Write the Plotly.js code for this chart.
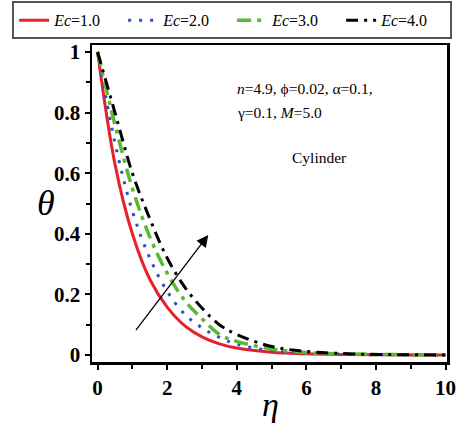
<!DOCTYPE html>
<html>
<head>
<meta charset="utf-8">
<script src="https://cdn.plot.ly/plotly-3.0.1.min.js"></script>
<style>html,body{margin:0;padding:0;background:#fff;}#chart{width:457px;height:445px;}</style>
</head>
<body>
<div id="chart"></div>
<script>
// Temperature profiles θ(η) for several Eckert numbers (cylinder case)
const eta = [0, 0.5, 1, 1.5, 2, 2.5, 3, 3.5, 4, 5, 6, 7, 8, 9, 10];
const thetaEc1 = [1, 0.63, 0.40, 0.25, 0.158, 0.097, 0.060, 0.037, 0.023, 0.009, 0.004, 0.002, 0.001, 0.0005, 0];
const thetaEc2 = [1, 0.70, 0.475, 0.32, 0.21, 0.135, 0.090, 0.058, 0.036, 0.014, 0.006, 0.003, 0.001, 0.0005, 0];
const thetaEc3 = [1, 0.76, 0.55, 0.39, 0.27, 0.18, 0.12, 0.068, 0.045, 0.020, 0.008, 0.004, 0.002, 0.001, 0];
const thetaEc4 = [1, 0.80, 0.60, 0.45, 0.32, 0.225, 0.155, 0.100, 0.068, 0.028, 0.012, 0.005, 0.002, 0.001, 0];
const seriesNames = ['<i>Ec</i>=1.0', '<i>Ec</i>=2.0', '<i>Ec</i>=3.0', '<i>Ec</i>=4.0'];
const xTicks = [0, 2, 4, 6, 8, 10];
const yTicks = [0, 0.2, 0.4, 0.6, 0.8, 1];

const serif = 'Liberation Serif, Times New Roman, serif';

const traces = [
  {x: eta, y: thetaEc1, name: seriesNames[0], line: {color: '#e8202a', width: 3, dash: 'solid', shape: 'spline'}},
  {x: eta, y: thetaEc2, name: seriesNames[1], line: {color: '#2f4fc0', width: 3, dash: '3px,8px', shape: 'spline'}},
  {x: eta, y: thetaEc3, name: seriesNames[2], line: {color: '#5cb833', width: 3.5, dash: '14px,6px,4px,6px', shape: 'spline'}},
  {x: eta, y: thetaEc4, name: seriesNames[3], line: {color: '#000000', width: 3, dash: '12px,6px,3px,6px', shape: 'spline'}}
].map(t => Object.assign({type: 'scatter', mode: 'lines'}, t));

const axisCommon = {
  showline: true, linecolor: '#000', linewidth: 2.5, mirror: true,
  ticks: 'outside', ticklen: 5, tickwidth: 2, tickcolor: '#000',
  showgrid: false, zeroline: false,
  tickfont: {family: serif, size: 21, color: '#000', weight: 'bold'}
};

const layout = {
  width: 457, height: 445,
  margin: {l: 92, r: 10, t: 45, b: 83, autoexpand: false},
  paper_bgcolor: '#fff', plot_bgcolor: '#fff',
  showlegend: true,
  legend: {
    orientation: 'h', x: -0.225, y: 1.138, xanchor: 'left', yanchor: 'top',
    bordercolor: '#555', borderwidth: 2, bgcolor: '#fff',
    font: {family: serif, size: 16, color: '#000'},
    entrywidth: 64, entrywidthmode: 'pixels', tracegroupgap: 0
  },
  xaxis: Object.assign({}, axisCommon, {
    range: [-0.16, 10.04], tickvals: xTicks,
    minor: {dtick: 1, ticks: 'outside', ticklen: 4, tickwidth: 2, tickcolor: '#000'}
  }),
  yaxis: Object.assign({}, axisCommon, {
    range: [-0.023, 1.023], tickvals: yTicks,
    minor: {dtick: 0.1, ticks: 'outside', ticklen: 4, tickwidth: 2, tickcolor: '#000'}
  }),
  annotations: [
    {x: 270, y: 425, xref: 'paper', yref: 'paper', showarrow: false, text: '<i>η</i>',
     font: {family: serif, size: 34, color: '#000'}},
    {x: 35, y: 203, xref: 'paper', yref: 'paper', showarrow: false, text: '<i>θ</i>',
     font: {family: serif, size: 36, color: '#000'}},
    {x: 3.18, y: 0.396, ax: 1.07, ay: 0.077, xref: 'x', yref: 'y', axref: 'x', ayref: 'y',
     showarrow: true, arrowhead: 2, arrowsize: 1.8, arrowwidth: 1.3, arrowcolor: '#000', text: ''},
    {x: 3.95, y: 0.88, xref: 'x', yref: 'y', xanchor: 'left', showarrow: false,
     text: '<i>n</i>=4.9, ϕ=0.02, α=0.1,', font: {family: serif, size: 15.5, color: '#000'}},
    {x: 3.95, y: 0.80, xref: 'x', yref: 'y', xanchor: 'left', showarrow: false,
     text: 'γ=0.1, <i>M</i>=5.0', font: {family: serif, size: 15.5, color: '#000'}},
    {x: 6.39, y: 0.653, xref: 'x', yref: 'y', xanchor: 'center', showarrow: false,
     text: 'Cylinder', font: {family: serif, size: 15.5, color: '#000'}}
  ]
};

// convert the pixel positions of the two axis-title annotations to paper fractions
const pw = layout.width - layout.margin.l - layout.margin.r;
const ph = layout.height - layout.margin.t - layout.margin.b;
[layout.annotations[0], layout.annotations[1]].forEach(a => {
  a.x = (a.x - layout.margin.l) / pw;
  a.y = 1 - (a.y - layout.margin.t) / ph;
});

Plotly.newPlot('chart', traces, layout, {displayModeBar: false, staticPlot: true});
</script>
</body>
</html>
